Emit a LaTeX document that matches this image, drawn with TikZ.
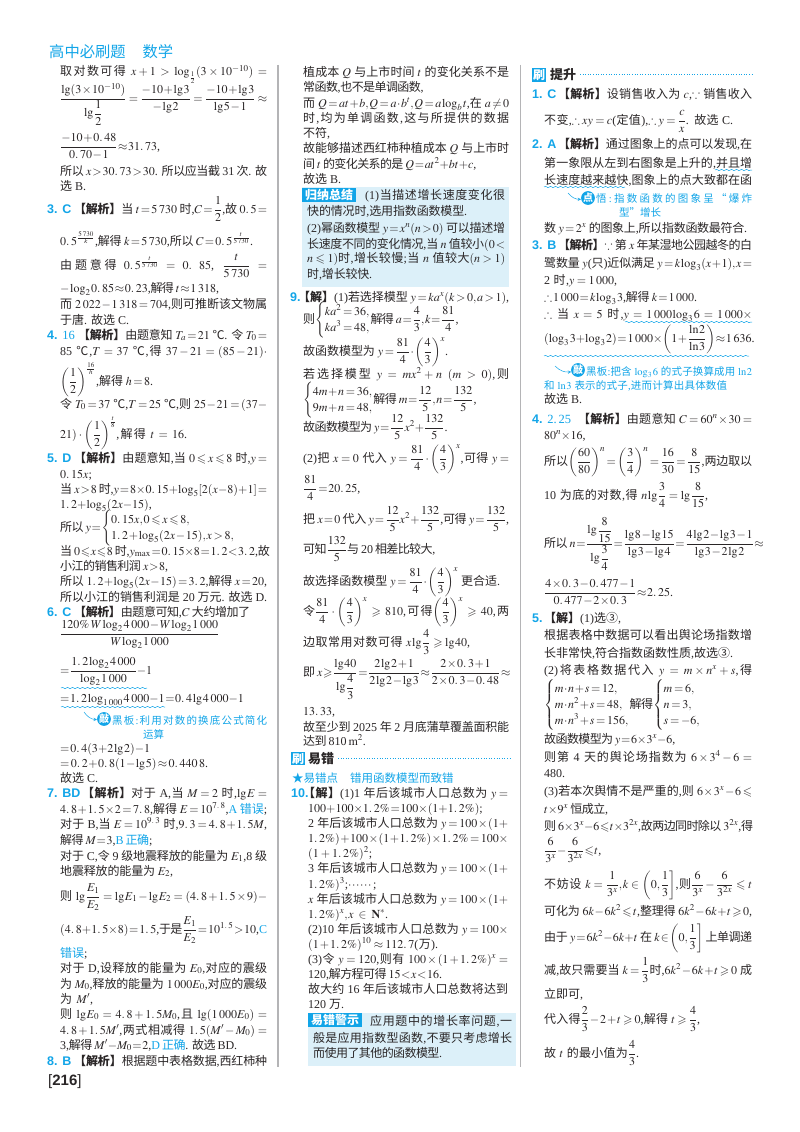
\documentclass[tikz,border=0pt]{standalone}
\usepackage{amsmath}
\usepackage{amssymb}
\usepackage{mathptmx}
\usepackage{fontspec}
\setmainfont{Liberation Serif}
\newfontfamily\cjk{Noto Sans CJK SC}
\newfontfamily\lab{Liberation Sans}
\usetikzlibrary{decorations.pathmorphing}
\definecolor{hblue}{HTML}{12A5E8}
\definecolor{pale}{HTML}{DCF0F9}
\definecolor{ink}{HTML}{2A2627}
\definecolor{sep}{HTML}{B4B4B6}
\thinmuskip=1mu
\medmuskip=1mu plus 1.5mu minus 1mu
\thickmuskip=2.5mu plus 3mu minus 1.5mu
\DeclareRobustCommand\,{\relax\ifmmode\mskip2.5mu\else\kern.16667em\fi}
\renewcommand\arraystretch{1.18}
% automatic font switch for CJK text
\newXeTeXintercharclass\cjkclass
\newcount\cjkcnt
\cjkcnt="4E00
\loop\XeTeXcharclass\cjkcnt=\cjkclass\advance\cjkcnt 1 \ifnum\cjkcnt<"A000 \repeat
\XeTeXcharclass"3010=\cjkclass \XeTeXcharclass"3011=\cjkclass
\XeTeXcharclass"2103=\cjkclass \XeTeXcharclass"2462=\cjkclass
\XeTeXcharclass"2605=\cjkclass \XeTeXcharclass"201C=\cjkclass
\XeTeXcharclass"201D=\cjkclass \XeTeXcharclass"FF1A=\cjkclass
\XeTeXinterchartoks 0 \cjkclass={\cjk\hskip 0pt plus 1pt minus .3pt}
\XeTeXinterchartoks 4095 \cjkclass={\cjk}
\XeTeXinterchartoks \cjkclass 0={\rmfamily\hskip 0pt plus 1pt minus .3pt}
\XeTeXinterchartoks \cjkclass 4095={\rmfamily}
\XeTeXinterchartoks \cjkclass \cjkclass={\hskip 0pt plus 1pt minus .6pt}
\AtBeginDocument{\XeTeXinterchartokenstate=1 }
\tikzset{
  txt/.style={anchor=base west,inner sep=0pt,text=ink,font=\fontsize{12}{13.6}\selectfont},
  numlbl/.style={anchor=base west,inner sep=0pt,text=hblue,font=\lab\bfseries\fontsize{12.5}{14}\selectfont},
  note/.style={txt,text=hblue,font=\fontsize{10.5}{12}\selectfont},
  tagbox/.style={anchor=north west,inner sep=0pt,fill=hblue,text=white,font=\bfseries\fontsize{12}{13}\selectfont},
  badge/.style={circle,inner sep=0pt,minimum size=13pt,fill=hblue,text=white,font=\bfseries\fontsize{10}{10}\selectfont},
  wavyline/.style={hblue,line width=.5pt,decorate,decoration={snake,amplitude=.7pt,segment length=5pt}},
  dotline/.style={hblue,line width=.6pt,dotted},
  notearrow/.style={hblue,line width=.5pt,-stealth},
}
\newcommand\jln[4]{\node[txt] at (#1,#2) {\hbox to #3pt{#4}};}
\newcommand\nln[3]{\node[txt] at (#1,#2) {\hbox{#3}};}
\newcommand\lbl[3]{\node[numlbl] at (#1,#2) {#3};}
\newcommand\jx{{\bfseries【解析】}}
\newcommand\jj{{\bfseries【解】}}
\newcommand\bcases[1]{\left\{\begin{array}{@{}l@{}}#1\end{array}\right.}
\begin{document}
\begin{tikzpicture}[x=1pt,y=-1pt]
\useasboundingbox (0,0) rectangle (800,1132);
\fill[white] (0,0) rectangle (800,1132);
\draw[sep,line width=1.2pt] (278,65) -- (278,1067);
\draw[sep,line width=1.2pt] (520.5,65) -- (520.5,1067);
\node[txt,text=hblue,font=\fontsize{15.3}{16}\selectfont] at (49,58) {\hbox{高中必刷题\hspace{17pt}数学}};
% first column
\jln{60}{76}{207}{取对数可得 $x+1>\log_{\frac{1}{2}}(3\times10^{-10})=$}
\jln{60}{102}{207}{$\dfrac{\lg(3\times10^{-10})}{\lg\dfrac{1}{2}}=\dfrac{-10+\lg 3}{-\lg 2}=\dfrac{-10+\lg 3}{\lg 5-1}\approx$}
\jln{60}{150}{95}{$\dfrac{-10+0.\,48}{0.\,70-1}\approx31.\,73$,}
\jln{60}{175}{207}{所以 $x>30.\,73>30$. 所以应当截 31 次. 故}
\nln{60}{190}{选 B.}
\lbl{47}{213}{3. C}
\jln{74}{213}{193}{\jx 当 $t=5\,730$ 时,$C=\dfrac{1}{2}$,故 $0.\,5=$}
\jln{60}{245}{193}{$0.\,5^{\frac{5\,730}{k}}$,解得 $k=5\,730$,所以 $C=0.\,5^{\frac{t}{5\,730}}$.}
\jln{60}{269}{207}{由题意得 $0.\,5^{\frac{t}{5\,730}}=0.\ 85$, $\dfrac{t}{5\,730}=$}
\jln{60}{292}{152}{$-\log_2 0.\,85\approx0.\,23$,解得 $t\approx1\,318$,}
\jln{60}{308}{207}{而 $2\,022-1\,318=704$,则可推断该文物属}
\nln{60}{324}{于唐. 故选 C.}
\lbl{47}{339}{4. {\rmfamily\mdseries 16}}
\jln{78}{339}{189}{\jx 由题意知 $T_a=21$ ℃. 令 $T_0=$}
\jln{60}{355}{207}{85 ℃,$T=37$ ℃,得 $37-21=(85-21)\cdot$}
\jln{60}{385}{93}{$\left(\dfrac{1}{2}\right)^{\frac{16}{h}}$,解得 $h=8$.}
\jln{60}{408}{207}{令 $T_0=37$ ℃,$T=25$ ℃,则 $25-21=(37-$}
\jln{60}{438}{127}{$21)\cdot\left(\dfrac{1}{2}\right)^{\frac{t}{8}}$,解得 $t=16$.}
\lbl{47}{462}{5. D}
\jln{74}{462}{193}{\jx 由题意知,当 $0\leqslant x\leqslant8$ 时,$y=$}
\nln{60}{478}{$0.\,15x$;}
\jln{60}{493}{207}{当 $x>8$ 时,$y=8\times0.\,15+\log_5[2(x-8)+1]=$}
\jln{60}{508}{90}{$1.\,2+\log_5(2x-15)$,}
\jln{60}{531}{163}{所以 $y=\bcases{0.\,15x,0\leqslant x\leqslant8,\\1.\,2+\log_5(2x-15),x>8,}$}
\jln{60}{555}{207}{当 $0\leqslant x\leqslant8$ 时,$y_{\max}=0.\,15\times8=1.\,2<3.\,2$,故}
\jln{60}{570}{108}{小江的销售利润 $x>8$,}
\jln{60}{585}{207}{所以 $1.\,2+\log_5(2x-15)=3.\,2$,解得 $x=20$,}
\jln{60}{601}{207}{所以小江的销售利润是 20 万元. 故选 D.}
\lbl{47}{616}{6. C}
\jln{74}{616}{176}{\jx 由题意可知,$C$ 大约增加了}
\jln{60}{637}{142}{$\dfrac{120\%\,W\log_2 4\,000-W\log_2 1\,000}{W\log_2 1\,000}$}
\jln{60}{674}{87}{$=\dfrac{1.\,2\log_2 4\,000}{\log_2 1\,000}-1$}
\draw[wavyline] (61,688) -- (147,688);
\jln{60}{702}{175}{$=1.\,2\log_{1\,000}4\,000-1=0.\,4\lg 4\,000-1$}
\draw[wavyline] (61,707) -- (165,707);
\coordinate (noteastart) at (84,712);
\node[badge] (notea) at (104,719) {敲};
\draw[notearrow] (noteastart) to[bend right=25] (notea);
\node[note] at (112,724) {\hbox to 155pt{黑板:利用对数的换底公式简化}};
\node[note] at (143,738) {\hbox{运算}};
\jln{60}{752}{90}{$=0.\,4(3+2\lg 2)-1$}
\jln{60}{767}{148}{$=0.\,2+0.\,8(1-\lg 5)\approx0.\,440\,8$.}
\nln{60}{782}{故选 C.}
\lbl{47}{797}{7. BD}
\jln{82}{797}{185}{\jx 对于 A,当 $M=2$ 时,$\lg E=$}
\jln{60}{813}{207}{$4.\,8+1.\,5\times2=7.\,8$,解得 $E=10^{7.\,8}$,{\color{hblue}A 错误};}
\jln{60}{828}{207}{对于 B,当 $E=10^{9.\,3}$ 时,$9.\,3=4.\,8+1.\,5M$,}
\jln{60}{844}{90}{解得 $M=3$,{\color{hblue}B 正确};}
\jln{60}{860}{207}{对于 C,令 9 级地震释放的能量为 $E_1$,8 级}
\jln{60}{875}{113}{地震释放的能量为 $E_2$,}
\jln{60}{900}{207}{则 $\lg\dfrac{E_1}{E_2}=\lg E_1-\lg E_2=(4.\,8+1.\,5\times9)-$}
\jln{60}{933}{207}{$(4.\,8+1.\,5\times8)=1.\,5$,于是$\dfrac{E_1}{E_2}=10^{1.\,5}>10$,{\color{hblue}C}}
\nln{60}{957}{{\color{hblue}错误};}
\jln{60}{972}{207}{对于 D,设释放的能量为 $E_0$,对应的震级}
\jln{60}{988}{207}{为 $M_0$,释放的能量为 $1\,000E_0$,对应的震级}
\jln{60}{1003}{33}{为 $M'$,}
\jln{60}{1018}{207}{则 $\lg E_0=4.\,8+1.\,5M_0$,且 $\lg(1\,000E_0)=$}
\jln{60}{1034}{207}{$4.\,8+1.\,5M'$,两式相减得 $1.\,5(M'-M_0)=$}
\jln{60}{1049}{177}{3,解得 $M'-M_0=2$,{\color{hblue}D 正确}. 故选 BD.}
\lbl{47}{1065}{8. B}
\jln{74}{1065}{193}{\jx 根据题中表格数据,西红柿种}
\node[numlbl,text=ink,font=\lab\bfseries\fontsize{15}{16}\selectfont] at (48,1085) {{\mdseries[}216{\mdseries]}};
% second column
\jln{303}{77}{206}{植成本 $Q$ 与上市时间 $t$ 的变化关系不是}
\jln{303}{92}{119}{常函数,也不是单调函数,}
\jln{303}{107}{206}{而 $Q=at+b,Q=a\cdot b^t,Q=a\log_b t$,在 $a\neq0$}
\jln{303}{122}{206}{时,均为单调函数,这与所提供的数据}
\nln{303}{137}{不符,}
\jln{303}{152}{206}{故能够描述西红柿种植成本 $Q$ 与上市时}
\jln{303}{168}{167}{间 $t$ 的变化关系的是 $Q=at^2+bt+c$,}
\nln{303}{183}{故选 B.}
\fill[pale] (302,187) rectangle (509,287);
\node[tagbox,minimum width=54pt,minimum height=13.5pt] at (302,188) {归纳总结};
\jln{365}{199}{140}{(1)当描述增长速度变化很}
\jln{307}{215}{160}{快的情况时,选用指数函数模型.}
\jln{307}{232}{198}{(2)幂函数模型 $y=x^n(n>0)$ 可以描述增}
\jln{307}{248}{198}{长速度不同的变化情况,当 $n$ 值较小$(0<$}
\jln{307}{262}{198}{$n\leqslant1)$时,增长较慢;当 $n$ 值较大$(n>1)$}
\jln{307}{278}{65}{时,增长较快.}
\lbl{290}{301}{9.}
\jln{298}{301}{211}{\jj(1)若选择模型 $y=ka^x(k>0,a>1)$,}
\jln{303}{323}{154}{则$\bcases{ka^2=36,\\ka^3=48,}$解得 $a=\dfrac{4}{3},k=\dfrac{81}{4}$,}
\jln{303}{355}{145}{故函数模型为 $y=\dfrac{81}{4}\cdot\left(\dfrac{4}{3}\right)^x$.}
\jln{303}{378}{206}{若选择模型 $y=mx^2+n\ (m>0)$,则}
\jln{303}{403}{162}{$\bcases{4m+n=36,\\9m+n=48,}$解得 $m=\dfrac{12}{5},n=\dfrac{132}{5}$,}
\jln{303}{431}{140}{故函数模型为 $y=\dfrac{12}{5}x^2+\dfrac{132}{5}$.}
\jln{303}{462}{206}{(2)把 $x=0$ 代入 $y=\dfrac{81}{4}\cdot\left(\dfrac{4}{3}\right)^x$,可得 $y=$}
\jln{303}{492}{55}{$\dfrac{81}{4}=20.\,25$,}
\jln{303}{523}{206}{把 $x=0$ 代入 $y=\dfrac{12}{5}x^2+\dfrac{132}{5}$,可得 $y=\dfrac{132}{5}$,}
\jln{303}{553}{132}{可知$\dfrac{132}{5}$与 20 相差比较大,}
\jln{303}{585}{197}{故选择函数模型 $y=\dfrac{81}{4}\cdot\left(\dfrac{4}{3}\right)^x$ 更合适.}
\jln{303}{615}{206}{令$\dfrac{81}{4}\cdot\left(\dfrac{4}{3}\right)^x\geqslant810$,可得$\left(\dfrac{4}{3}\right)^x\geqslant40$,两}
\jln{303}{646}{167}{边取常用对数可得 $x\lg\dfrac{4}{3}\geqslant\lg 40$,}
\jln{303}{676}{206}{即 $x\geqslant\dfrac{\lg 40}{\lg\dfrac{4}{3}}=\dfrac{2\lg 2+1}{2\lg 2-\lg 3}\approx\dfrac{2\times0.\,3+1}{2\times0.\,3-0.\,48}\approx$}
\nln{303}{715}{$13.\,33$,}
\jln{303}{731}{206}{故至少到 2025 年 2 月底蒲草覆盖面积能}
\jln{303}{745}{61}{达到 810 $\mathrm{m}^2$.}
\node[tagbox,minimum width=14pt,minimum height=13pt] at (291,752) {刷};
\node[txt,font=\bfseries\fontsize{13}{14}\selectfont] at (308,763) {\hbox{易错}};
\draw[dotline] (338,758) -- (510,758);
\node[txt,text=hblue,font=\fontsize{11.5}{13}\selectfont] at (292,782) {\hbox{★易错点\hspace{12pt}错用函数模型而致错}};
\lbl{291}{797}{10.}
\jln{303}{797}{205}{\jj(1)1 年后该城市人口总数为 $y=$}
\jln{308}{812}{172}{$100+100\times1.\,2\%=100\times(1+1.\,2\%)$;}
\jln{308}{827}{200}{2 年后该城市人口总数为 $y=100\times(1+$}
\jln{308}{842}{200}{$1.\,2\%)+100\times(1+1.\,2\%)\times1.\,2\%=100\times$}
\jln{308}{857}{64}{$(1+1.\,2\%)^2$;}
\jln{308}{872}{200}{3 年后该城市人口总数为 $y=100\times(1+$}
\jln{308}{888}{74}{$1.\,2\%)^3$;$\cdots\cdots$;}
\jln{308}{903}{200}{$x$ 年后该城市人口总数为 $y=100\times(1+$}
\jln{308}{918}{80}{$1.\,2\%)^x,x\in\mathbf{N}^*$.}
\jln{308}{933}{200}{(2)10 年后该城市人口总数为 $y=100\times$}
\jln{308}{948}{130}{$(1+1.\,2\%)^{10}\approx112.\,7$(万).}
\jln{308}{963}{200}{(3)令 $y=120$,则有 $100\times(1+1.\,2\%)^x=$}
\jln{308}{978}{130}{120,解方程可得 $15<x<16$.}
\jln{308}{993}{200}{故大约 16 年后该城市人口总数将达到}
\nln{308}{1008}{120 万.}
\fill[pale] (308,1013) rectangle (516,1066);
\node[tagbox,minimum width=54pt,minimum height=14pt] at (308,1013) {易错警示};
\jln{370}{1025}{142}{应用题中的增长率问题,一}
\jln{313}{1042}{199}{般是应用指数型函数,不要只考虑增长}
\jln{313}{1057}{129}{而使用了其他的函数模型.}
% third column
\node[tagbox,minimum width=14pt,minimum height=14pt] at (532,68) {刷};
\node[txt,font=\bfseries\fontsize{13}{14}\selectfont] at (550,79) {\hbox{提升}};
\draw[dotline] (580,74) -- (752,74);
\lbl{532}{99}{1. C}
\jln{558}{99}{194}{\jx 设销售收入为 $c$,$\because$ 销售收入}
\jln{544}{124}{189}{不变,$\therefore xy=c$(定值),$\therefore y=\dfrac{c}{x}$. 故选 C.}
\lbl{532}{148}{2. A}
\jln{558}{148}{194}{\jx 通过图象上的点可以发现,在}
\jln{544}{167}{208}{第一象限从左到右图象是上升的,并且增}
\draw[wavyline] (715,170) -- (752,170);
\jln{544}{184}{208}{长速度越来越快,图象上的点大致都在函}
\draw[wavyline] (544,187) -- (625,187);
\coordinate (notebstart) at (568,193);
\node[badge] (noteb) at (588,198) {点};
\draw[notearrow] (notebstart) to[bend right=25] (noteb);
\node[note] at (596,202) {\hbox to 156pt{悟:指数函数的图象呈“爆炸}};
\node[note] at (619,216) {\hbox{型”增长}};
\jln{544}{232}{203}{数 $y=2^x$ 的图象上,所以指数函数最符合.}
\lbl{532}{249}{3. B}
\jln{558}{249}{194}{\jx$\because$ 第 $x$ 年某湿地公园越冬的白}
\jln{544}{267}{208}{鹭数量 $y$(只)近似满足 $y=k\log_3(x+1),x=$}
\jln{544}{284}{73}{2 时,$y=1\,000$,}
\jln{544}{301}{153}{$\therefore 1\,000=k\log_3 3$,解得 $k=1\,000$.}
\jln{544}{318}{208}{$\therefore$ 当 $x=5$ 时,$y=1\,000\log_3 6=1\,000\times$}
\draw[wavyline] (625,322) -- (752,322);
\jln{544}{342}{208}{$(\log_3 3+\log_3 2)=1\,000\times\left(1+\dfrac{\ln 2}{\ln 3}\right)\approx1\,636$.}
\draw[wavyline] (544,356) -- (749,356);
\coordinate (notecstart) at (555,366);
\node[badge] (notec) at (578,370) {敲};
\draw[notearrow] (notecstart) to[bend right=25] (notec);
\node[note] at (586,375) {\hbox to 166pt{黑板:把含 $\log_3 6$ 的式子换算成用 $\ln 2$}};
\node[note] at (544,389) {\hbox to 183pt{和 $\ln 3$ 表示的式子,进而计算出具体数值}};
\nln{544}{403}{故选 B.}
\lbl{532}{423}{4. {\rmfamily\mdseries 2.\,25}}
\jln{578}{423}{174}{\jx 由题意知 $C=60^n\times30=$}
\jln{544}{439}{39}{$80^n\times16$,}
\jln{544}{465}{208}{所以$\left(\dfrac{60}{80}\right)^n=\left(\dfrac{3}{4}\right)^n=\dfrac{16}{30}=\dfrac{8}{15}$,两边取以}
\jln{544}{499}{164}{10 为底的对数,得 $n\lg\dfrac{3}{4}=\lg\dfrac{8}{15}$,}
\jln{544}{547}{208}{所以 $n=\dfrac{\lg\dfrac{8}{15}}{\lg\dfrac{3}{4}}=\dfrac{\lg 8-\lg 15}{\lg 3-\lg 4}=\dfrac{4\lg 2-\lg 3-1}{\lg 3-2\lg 2}\approx$}
\jln{544}{596}{117}{$\dfrac{4\times0.\,3-0.\,477-1}{0.\,477-2\times0.\,3}\approx2.\,25$.}
\lbl{532}{622}{5.}
\nln{544}{622}{\jj(1)选③,}
\jln{544}{639}{208}{根据表格中数据可以看出舆论场指数增}
\jln{544}{657}{189}{长非常快,符合指数函数性质,故选③.}
\jln{544}{674}{208}{(2)将表格数据代入 $y=m\times n^x+s$,得}
\jln{544}{708}{139}{$\bcases{m\cdot n+s=12,\\m\cdot n^2+s=48,\\m\cdot n^3+s=156,}$解得$\bcases{m=6,\\n=3,\\s=-6,}$}
\jln{544}{743}{129}{故函数模型为 $y=6\times3^x-6$,}
\jln{544}{761}{208}{则第 4 天的舆论场指数为 $6\times3^4-6=$}
\nln{544}{777}{480.}
\jln{544}{795}{208}{(3)若本次舆情不是严重的,则 $6\times3^x-6\leqslant$}
\jln{544}{813}{64}{$t\times9^x$ 恒成立,}
\jln{544}{830}{208}{则 $6\times3^x-6\leqslant t\times3^{2x}$,故两边同时除以 $3^{2x}$,得}
\jln{544}{854}{56}{$\dfrac{6}{3^x}-\dfrac{6}{3^{2x}}\leqslant t$,}
\jln{544}{888}{208}{不妨设 $k=\dfrac{1}{3^x},k\in\left(0,\dfrac{1}{3}\right]$,则$\dfrac{6}{3^x}-\dfrac{6}{3^{2x}}\leqslant t$}
\jln{544}{915}{208}{可化为 $6k-6k^2\leqslant t$,整理得 $6k^2-6k+t\geqslant0$,}
\jln{544}{941}{208}{由于 $y=6k^2-6k+t$ 在 $k\in\left(0,\dfrac{1}{3}\right]$ 上单调递}
\jln{544}{974}{208}{减,故只需要当 $k=\dfrac{1}{3}$时,$6k^2-6k+t\geqslant0$ 成}
\nln{544}{998}{立即可,}
\jln{544}{1023}{156}{代入得$\dfrac{2}{3}-2+t\geqslant0$,解得 $t\geqslant\dfrac{4}{3}$,}
\jln{544}{1057}{95}{故 $t$ 的最小值为$\dfrac{4}{3}$.}
\end{tikzpicture}
\end{document}
